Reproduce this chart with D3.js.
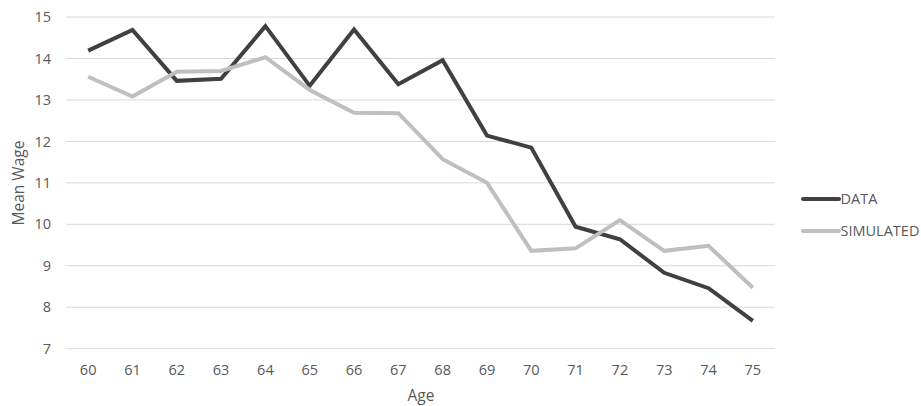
<!DOCTYPE html>
<html><head><meta charset="utf-8">
<script src="https://cdn.jsdelivr.net/npm/d3@7"></script>
<style>
html,body{margin:0;padding:0;background:#fff;}
text{font-family:"Open Sans",sans-serif;fill:#595959;}
</style></head>
<body><svg id="chart" width="921" height="406"></svg>
<script>
const ages = ["60","61","62","63","64","65","66","67","68","69","70","71","72","73","74","75"];
const dataValues = [14.19,14.69,13.46,13.51,14.78,13.34,14.70,13.38,13.96,12.14,11.85,9.94,9.64,8.83,8.46,7.67];
const simulatedValues = [13.56,13.08,13.68,13.70,14.03,13.24,12.69,12.68,11.57,11.00,9.36,9.42,10.10,9.36,9.48,8.47];
const yTicks = [7,8,9,10,11,12,13,14,15];
const seriesNames = ["DATA","SIMULATED"];
const seriesColors = ["#404040","#bfbfbf"];

const svg = d3.select("#chart");
const x = d3.scaleBand().domain(ages).range([66,775]);
const y = d3.scaleLinear().domain([7,15]).range([348.7,17]);

// gridlines
svg.append("g").selectAll("line").data(yTicks).join("line")
  .attr("x1",66).attr("x2",775)
  .attr("y1",d=>y(d)).attr("y2",d=>y(d))
  .attr("stroke","#d9d9d9").attr("stroke-width",1);

// y axis
const yAxis = svg.append("g").attr("transform","translate(51,0)")
  .call(d3.axisLeft(y).tickValues(yTicks).tickSize(0).tickPadding(0));
yAxis.select(".domain").remove();
yAxis.selectAll("text").style("font-size","14.5px").style("font-family","'Open Sans',sans-serif").attr("fill","#595959");

// x axis
const xAxis = svg.append("g").attr("transform","translate(0,364.5)")
  .call(d3.axisBottom(x).tickSize(0).tickPadding(0));
xAxis.select(".domain").remove();
xAxis.selectAll("text").style("font-size","14.5px").style("font-family","'Open Sans',sans-serif").attr("fill","#595959");

// titles
svg.append("text").attr("x",421).attr("y",401).attr("text-anchor","middle")
  .style("font-size","15.5px").text("Age");
svg.append("text").attr("transform","translate(24,183) rotate(-90)").attr("text-anchor","middle")
  .style("font-size","15.5px").text("Mean Wage");

// lines
const line = d3.line().x((d,i)=>x(ages[i])+x.bandwidth()/2).y(d=>y(d));
[dataValues, simulatedValues].forEach((vals,i)=>{
  svg.append("path").datum(vals).attr("d",line)
    .attr("fill","none").attr("stroke",seriesColors[i])
    .attr("stroke-width",4).attr("stroke-linejoin","miter");
});

// legend
const lg = svg.append("g");
seriesNames.forEach((n,i)=>{
  const yy = 199 + i*32;
  lg.append("line").attr("x1",803).attr("x2",839).attr("y1",yy).attr("y2",yy)
    .attr("stroke",seriesColors[i]).attr("stroke-width",4).attr("stroke-linecap","round");
  lg.append("text").attr("x",840.5).attr("y",yy).attr("dy","0.35em")
    .style("font-size","14.5px").text(n);
});
</script>
</body></html>
